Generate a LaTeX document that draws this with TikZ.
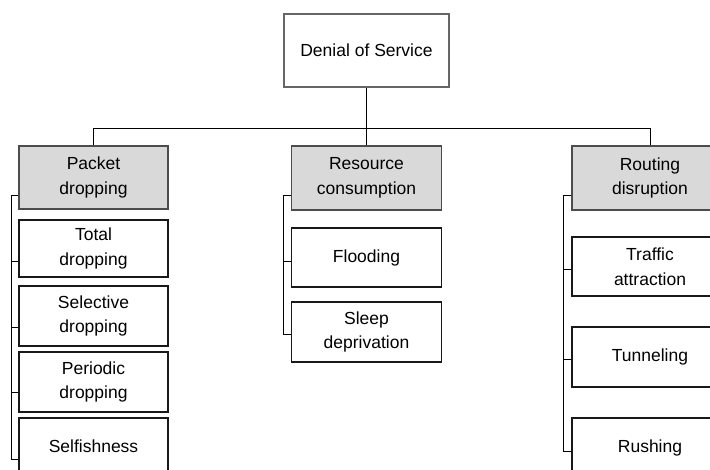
\documentclass[tikz,border=0pt]{standalone}
\usepackage{fontspec}
\setmainfont{Liberation Sans}
\usepackage{tikz}
\usetikzlibrary{positioning}

\tikzset{
    rootbox/.style={draw=black!60, line width=1.6pt, inner sep=0pt, align=center},
    catbox/.style={draw=black!70, fill=black!15, line width=1.7pt, inner sep=0pt, align=center},
    leafbox/.style={draw=black!90, line width=1.3pt, inner sep=0pt, align=center},
    link/.style={draw=black, line width=1pt}
}

\begin{document}
\begin{tikzpicture}[x=1pt, y=-1pt, font=\fontsize{17.5}{24.5}\selectfont]
                        \useasboundingbox (0, 0) rectangle (710, 470);
                        \clip (0, 0) rectangle (710, 470);

                        \node[rootbox, minimum width=165pt, minimum height=73pt] (dos) at (366.5, 50.5) {Denial of Service};

                        \node[catbox, minimum width=149pt, minimum height=63pt] (pd) at (93.5, 177.5) {Packet\\dropping};
                        \node[catbox, minimum width=150pt, minimum height=64pt] (rc) at (366.5, 178) {Resource\\consumption};
                        \node[catbox, minimum width=156pt, minimum height=64pt] (rd) at (650, 178) {Routing\\disruption};

                        \node[leafbox, minimum width=149pt, minimum height=57pt] (td) at (93.5, 248.5) {Total\\dropping};
                        \node[leafbox, minimum width=149pt, minimum height=60pt] (sd) at (93.5, 316) {Selective\\dropping};
                        \node[leafbox, minimum width=149pt, minimum height=60pt] (prd) at (93.5, 382) {Periodic\\dropping};
                        \node[leafbox, minimum width=149pt, minimum height=57pt] (sf) at (93.5, 446.5) {Selfishness};

                        \node[leafbox, minimum width=150pt, minimum height=59pt] (fl) at (366.5, 257.5) {Flooding};
                        \node[leafbox, minimum width=150pt, minimum height=60pt] (sl) at (366.5, 332) {Sleep\\deprivation};

                        \node[leafbox, minimum width=156pt, minimum height=59pt] (ta) at (650, 266.5) {Traffic\\attraction};
                        \node[leafbox, minimum width=156pt, minimum height=60pt] (tn) at (650, 357) {Tunneling};
                        \node[leafbox, minimum width=156pt, minimum height=59pt] (ru) at (650, 447.5) {Rushing};

                        % top level
                        \draw[link]
                        (dos.south) -- ++(0, 41) coordinate (bar)
                        (bar) -| (pd.north)
                        (bar) -| (rd.north)
                        (bar) -- (rc.north);

                        % packet dropping
                        \draw[link]
                        ([yshift=-18.5pt]pd.west) -- ++(-7, 0) |- ([yshift=-13.5pt]td.west)
                        ([yshift=-18.5pt]pd.west) -- ++(-7, 0) |- ([yshift=-12pt]sd.west)
                        ([yshift=-18.5pt]pd.west) -- ++(-7, 0) |- ([yshift=-11pt]prd.west)
                        ([yshift=-18.5pt]pd.west) -- ++(-7, 0) |- ([yshift=-12.5pt]sf.west);

                        % resource consumption
                        \draw[link]
                        ([yshift=-18pt]rc.west) -- ++(-7, 0) |- ([yshift=-4.5pt]fl.west)
                        ([yshift=-18pt]rc.west) -- ++(-7, 0) |- ([yshift=-3pt]sl.west);

                        % routing disruption
                        \draw[link]
                        ([yshift=-18pt]rd.west) -- ++(-8, 0) |- ([yshift=-3.5pt]ta.west)
                        ([yshift=-18pt]rd.west) -- ++(-8, 0) |- ([yshift=-3pt]tn.west)
                        ([yshift=-18pt]rd.west) -- ++(-8, 0) |- ([yshift=-3.5pt]ru.west);
                    \end{tikzpicture}
\end{document}
